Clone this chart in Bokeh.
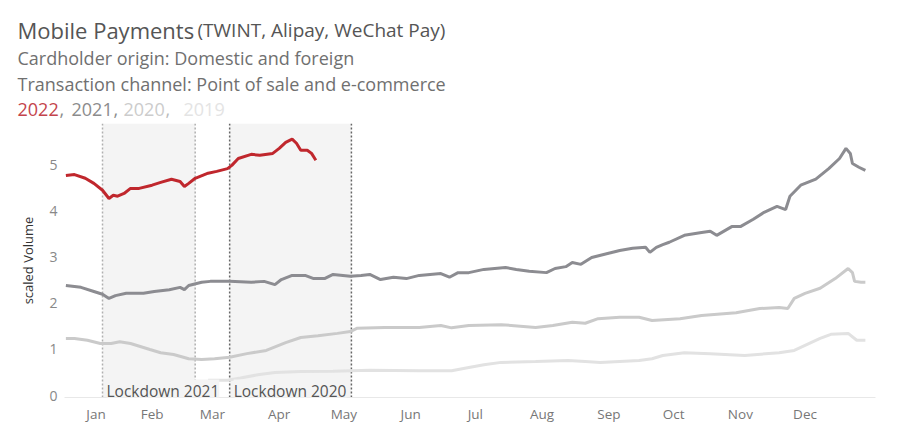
from bokeh.plotting import figure
from bokeh.layouts import column
from bokeh.models import Range1d, FixedTicker, Label, Span, BoxAnnotation
from bokeh.core.properties import value
from bokeh.embed import file_html
from bokeh.resources import INLINE

FONT = "Open Sans"

# ---------------- data (x = day of year, 0 = 1 Jan) ----------------
days_2022 = [-4, 0, 5, 9, 13, 16, 18, 20, 23, 26, 30, 36, 40, 45, 49, 51, 53, 56, 62, 66,
             71, 73, 76, 82, 86, 92, 95, 98, 101, 103, 105, 108, 110, 112]
vol_2022 = [4.78, 4.80, 4.72, 4.61, 4.46, 4.28, 4.35, 4.33, 4.39, 4.50, 4.50, 4.57, 4.63, 4.70,
            4.65, 4.54, 4.61, 4.72, 4.83, 4.87, 4.93, 5.00, 5.15, 5.24, 5.22, 5.26, 5.37, 5.50,
            5.57, 5.48, 5.33, 5.33, 5.26, 5.11]

days_2021 = [-4, 3, 9, 13, 16, 19, 24, 32, 37, 44, 49, 51, 53, 59, 63, 72, 82, 88, 93, 96,
             101, 107, 111, 116, 120, 128, 133, 137, 142, 148, 154, 160, 170, 174, 178, 183,
             190, 200, 205, 211, 219, 223, 228, 231, 235, 240, 246, 253, 259, 265, 267, 270,
             273, 276, 283, 291, 295, 298, 305, 309, 315, 320, 326, 330, 332, 337, 344, 350,
             355, 358, 360, 361, 364, 367]
vol_2021 = [2.39, 2.35, 2.26, 2.20, 2.11, 2.17, 2.22, 2.22, 2.26, 2.30, 2.35, 2.30, 2.39, 2.46,
            2.48, 2.48, 2.46, 2.48, 2.41, 2.52, 2.61, 2.61, 2.54, 2.54, 2.63, 2.59, 2.61, 2.63,
            2.52, 2.57, 2.54, 2.61, 2.65, 2.57, 2.67, 2.67, 2.74, 2.78, 2.74, 2.70, 2.67, 2.76,
            2.80, 2.89, 2.85, 3.00, 3.07, 3.15, 3.20, 3.22, 3.11, 3.22, 3.28, 3.33, 3.48, 3.54,
            3.57, 3.48, 3.67, 3.67, 3.83, 3.98, 4.11, 4.04, 4.33, 4.57, 4.70, 4.93, 5.15, 5.37,
            5.26, 5.04, 4.96, 4.89]

days_2020 = [-4, 0, 6, 12, 17, 21, 26, 35, 40, 46, 53, 59, 65, 72, 80, 89, 98, 105, 113, 122,
             128, 131, 144, 160, 170, 175, 183, 198, 214, 222, 231, 237, 243, 253, 262, 268,
             281, 291, 307, 318, 327, 331, 334, 339, 346, 353, 359, 361, 362, 365, 367]
vol_2020 = [1.24, 1.24, 1.20, 1.13, 1.13, 1.17, 1.13, 1.00, 0.93, 0.89, 0.80, 0.78, 0.80, 0.83,
            0.91, 0.98, 1.15, 1.26, 1.30, 1.35, 1.39, 1.46, 1.48, 1.48, 1.52, 1.47, 1.52, 1.54,
            1.48, 1.52, 1.59, 1.57, 1.67, 1.70, 1.70, 1.63, 1.67, 1.74, 1.80, 1.89, 1.91, 1.89,
            2.11, 2.22, 2.33, 2.54, 2.76, 2.67, 2.48, 2.46, 2.46]

days_2019 = [62, 71, 77, 85, 93, 105, 120, 137, 160, 175, 183, 190, 198, 214, 229, 237, 244,
             253, 262, 268, 273, 283, 295, 311, 327, 334, 346, 351, 359, 363, 367]
vol_2019 = [0.33, 0.33, 0.38, 0.45, 0.50, 0.52, 0.53, 0.55, 0.54, 0.54, 0.61, 0.67, 0.72, 0.74,
            0.76, 0.74, 0.72, 0.74, 0.76, 0.80, 0.87, 0.93, 0.91, 0.87, 0.93, 0.98, 1.24, 1.33,
            1.35, 1.20, 1.20]

lockdown_2021 = [13, 56]
lockdown_2020 = [72, 128.5]

# month label positions (day of year where each month name is centred)
month_label_days = [10, 36, 64, 95, 125, 156, 186, 217, 248, 278, 309, 339]
month_names = ["Jan", "Feb", "Mar", "Apr", "May", "Jun", "Jul", "Aug", "Sep", "Oct", "Nov", "Dec"]
y_ticks = [0, 1, 2, 3, 4, 5]

title_main = "Mobile Payments"
title_sub = "(TWINT, Alipay, WeChat Pay)"
subtitle_1 = "Cardholder origin: Domestic and foreign"
subtitle_2 = "Transaction channel: Point of sale and e-commerce"
year_labels = ["2022", "2021", "2020", "2019"]

# ---------------- styles ----------------
C2022 = "#c0272d"
C2021 = "#8c8c91"
C2020 = "#cacaca"
C2019 = "#e2e2e2"
BAND = "#f4f4f4"

# ---------------- header (pixel coordinates: x right, y down) ----------------
hdr = figure(width=900, height=123, output_backend="svg", toolbar_location=None, title=None,
             x_range=Range1d(0, 900), y_range=Range1d(123, 0),
             x_axis_type=None, y_axis_type=None,
             min_border_left=0, min_border_right=0, min_border_top=0, min_border_bottom=0)
hdr.outline_line_color = None
hdr.background_fill_color = "white"
hdr.border_fill_color = "white"
hdr.frame_align = False


def htext(txt, x, y, size, color):
    hdr.text(x=[x], y=[y], text=[txt], text_font=value(FONT), text_font_size=value(size),
             text_color=color, text_baseline="alphabetic", text_align="left")


htext(title_main, 17, 29, "22px", "#555555")
htext(title_sub, 197, 29, "19px", "#555555")
htext(subtitle_1, 17, 57, "18px", "#707070")
htext(subtitle_2, 17, 83, "18px", "#707070")
year_x = [17, 71, 123, 183]
year_colors = ["#c4444c", "#8c8c8c", "#cccccc", "#e4e4e4"]
comma_x = [59, 113, 165]
comma_colors = ["#8c8c8c", "#8c8c8c", "#bbbbbb"]
for t, x, c in zip(year_labels, year_x, year_colors):
    htext(t, x, 109, "18px", c)
for x, c in zip(comma_x, comma_colors):
    htext(",", x, 109, "18px", c)

# ---------------- main chart ----------------
p = figure(width=900, height=322, output_backend="svg", toolbar_location=None, title=None,
           x_range=Range1d(-4.64, 371.7), y_range=Range1d(-0.043, 5.91),
           min_border_left=64, min_border_right=25, min_border_top=0, min_border_bottom=48)
p.outline_line_color = None
p.xgrid.visible = False
p.ygrid.visible = False
p.background_fill_color = "white"
p.border_fill_color = "white"
p.frame_align = False

for (a, b) in (lockdown_2021, lockdown_2020):
    p.add_layout(BoxAnnotation(left=a, right=b, fill_color=BAND, fill_alpha=1.0,
                               line_color=None, level="underlay"))
for loc in lockdown_2021:
    p.add_layout(Span(location=loc, dimension="height", line_color="#b0b0b0",
                      line_dash="2 2", line_width=1.5, level="underlay"))
for loc in lockdown_2020:
    p.add_layout(Span(location=loc, dimension="height", line_color="#666666",
                      line_dash="2 2", line_width=1.5, level="underlay"))

p.line(days_2019, vol_2019, line_color=C2019, line_width=3)
p.line(days_2020, vol_2020, line_color=C2020, line_width=3)
p.line(days_2021, vol_2021, line_color=C2021, line_width=3)
p.line(days_2022, vol_2022, line_color=C2022, line_width=3)

for start, txt in ((lockdown_2021[0], "Lockdown 2021"), (lockdown_2020[0], "Lockdown 2020")):
    p.add_layout(Label(x=start, y=7, x_units="data", y_units="screen", x_offset=4,
                       text=txt, text_font=FONT, text_font_size="15.5px", text_color="#555555",
                       text_baseline="alphabetic", background_fill_color=BAND,
                       background_fill_alpha=1.0))

ya = p.yaxis[0]
ya.ticker = FixedTicker(ticks=y_ticks)
ya.axis_line_color = None
ya.major_tick_line_color = None
ya.minor_tick_line_color = None
ya.major_tick_out = 0
ya.major_tick_in = 0
ya.major_label_text_font = FONT
ya.major_label_text_font_size = "14px"
ya.major_label_text_color = "#888888"
ya.major_label_standoff = 7
ya.axis_label = "scaled Volume"
ya.axis_label_text_font = FONT
ya.axis_label_text_font_size = "13px"
ya.axis_label_text_font_style = "normal"
ya.axis_label_text_color = "#333333"
ya.axis_label_standoff = 9

xa = p.xaxis[0]
xa.ticker = FixedTicker(ticks=month_label_days)
xa.major_label_overrides = {d: m for d, m in zip(month_label_days, month_names)}
xa.axis_line_color = "#e8e8e8"
xa.major_tick_line_color = None
xa.minor_tick_line_color = None
xa.major_tick_out = 0
xa.major_tick_in = 0
xa.major_label_text_font = FONT
xa.major_label_text_font_size = "13.5px"
xa.major_label_text_color = "#777777"
xa.major_label_standoff = 7

layout = column(hdr, p, spacing=0)
open("out.html", "w").write(file_html(layout, INLINE))
